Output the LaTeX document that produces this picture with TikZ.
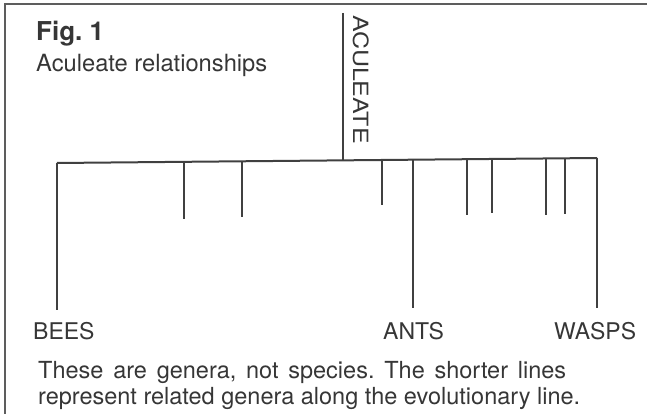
\documentclass[tikz,border=0pt]{standalone}
\usepackage{fontspec}
\setmainfont{TeX Gyre Heros}
\usepackage{tikz}
\definecolor{ink}{HTML}{363636}
\definecolor{branch}{HTML}{404040}
\frenchspacing

\begin{document}
\begin{tikzpicture}[x=1pt,y=-1pt,
  branch/.style={draw=branch, line width=2pt},
  lbl/.style={anchor=base west, inner sep=0pt, text=ink, font=\fontsize{23}{26}\selectfont}]
\useasboundingbox (0,0) rectangle (647,414);
\draw[branch!85, line width=1.5pt] (5,414) -- (5,4) -- (647,4);
\node[lbl, font=\fontsize{26}{28}\selectfont\bfseries] (fig) at (36,41) {Fig. 1};
\node[lbl, font=\fontsize{23.7}{26}\selectfont] (title) at (36,72) {Aculeate relationships};
\coordinate (top) at (343,13);
\coordinate (root) at (343,160);
\coordinate (bl) at (57,163);
\coordinate (br) at (597,158);
\draw[branch] (top) -- (root);
\draw[branch] (bl) -- (br);
\node[lbl, rotate=-90, font=\fontsize{21}{24}\selectfont] (aculeate) at (353,15) {\scalebox{1.19}[1]{ACULEATE}};
% short lines: related genera
\foreach \x/\b in {184/219, 242/217, 382/205, 467/215, 492/213, 546/215, 565/214} {
  \draw[branch] (\x,{163-(\x-57)*5/540}) -- (\x,\b);
}
% long lines
\coordinate (bees) at (57,310);
\coordinate (ants) at (413,308);
\coordinate (wasps) at (597,308);
\coordinate (antsbar) at (413,{163-(413-57)*5/540});
\draw[branch] (bl) -- (bees);
\draw[branch] (antsbar) -- (ants);
\draw[branch] (br) -- (wasps);
\node[lbl] (beeslbl) at (33,339) {BEES};
\node[lbl] (antslbl) at (383,339) {ANTS};
\node[lbl] (waspslbl) at (554,339) {WASPS};
\node[lbl, font=\fontsize{23.5}{26}\selectfont] (cap1) at (38,378) {\makebox[528pt][s]{These are genera, not species. The shorter lines}};
\node[lbl, font=\fontsize{23.5}{26}\selectfont] (cap2) at (38,404) {represent related genera along the evolutionary line.};
\end{tikzpicture}
\end{document}
